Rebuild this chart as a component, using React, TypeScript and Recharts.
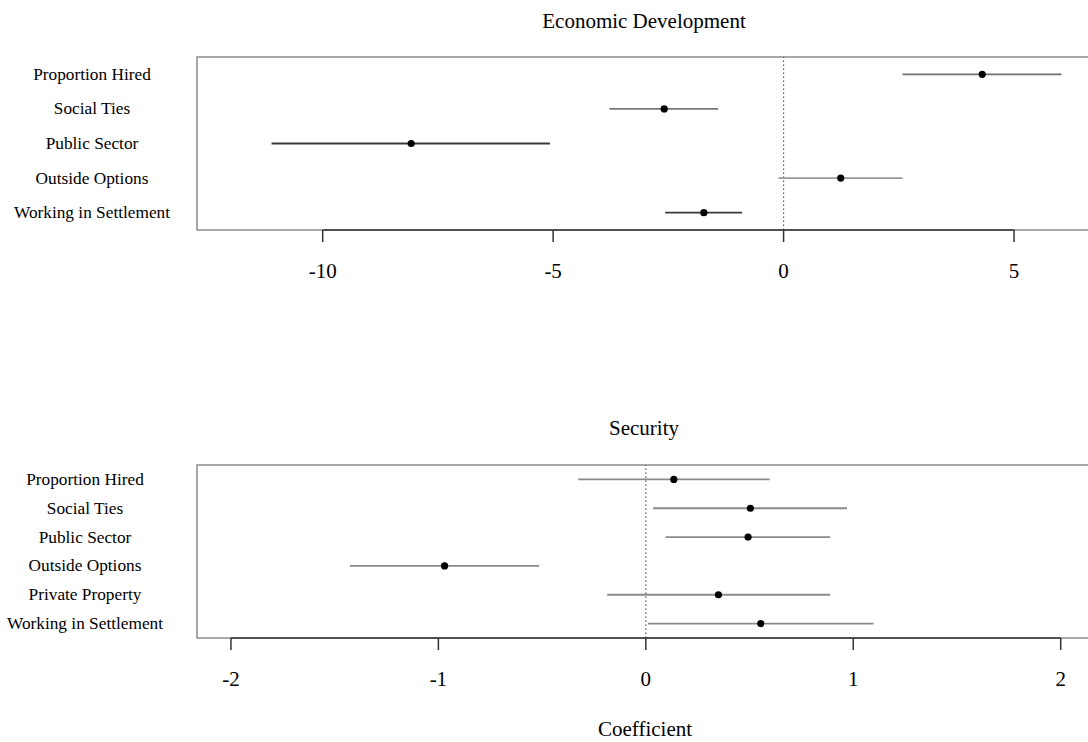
import React from 'react';
import { ScatterChart, Scatter, XAxis, YAxis, ReferenceLine, ReferenceArea } from 'recharts';

const FONT = '"Liberation Serif", "DejaVu Serif", serif';

// Economic Development panel
const econLabels = ['Proportion Hired', 'Social Ties', 'Public Sector', 'Outside Options', 'Working in Settlement'];
const econEstimate = [4.31, -2.59, -8.08, 1.24, -1.73];
const econLow = [2.58, -3.78, -11.11, -0.11, -2.57];
const econHigh = [6.03, -1.42, -5.07, 2.58, -0.9];
const econTicks = [-10, -5, 0, 5];

// Security panel
const secLabels = ['Proportion Hired', 'Social Ties', 'Public Sector', 'Outside Options', 'Private Property', 'Working in Settlement'];
const secEstimate = [0.135, 0.504, 0.493, -0.97, 0.35, 0.554];
const secLow = [-0.326, 0.035, 0.095, -1.426, -0.186, 0.011];
const secHigh = [0.597, 0.97, 0.889, -0.514, 0.889, 1.098];
const secTicks = [-2, -1, 0, 1, 2];

const econLineColors = ['#707070', '#777777', '#3a3a3a', '#999999', '#3a3a3a'];
const secLineColors = ['#8a8a8a', '#8a8a8a', '#8a8a8a', '#8a8a8a', '#8a8a8a', '#8a8a8a'];

const Dot = (props: any) => <circle cx={props.cx} cy={props.cy} r={3.6} fill="#000" />;

const XTick = (p: any) => (
  <text x={p.x} y={p.y} dy={15} textAnchor="middle" fontSize={21} fontFamily={FONT} fill="#000">
    {p.payload.value}
  </text>
);

type PanelProps = {
  labels: string[];
  estimate: number[];
  low: number[];
  high: number[];
  ticks: number[];
  domain: [number, number];
  labelX: number;
  lineColors: string[];
};

function CoefPanel({ labels, estimate, low, high, ticks, domain, labelX, lineColors }: PanelProps) {
  const rows = labels.map((label, i) => ({ label, y: i + 1, x: estimate[i], lo: low[i], hi: high[i] }));
  const yMax = labels.length + 0.5;
  return (
    <ScatterChart width={1090} height={300} margin={{ top: 57, right: 0, bottom: 0, left: 0 }}>
      <XAxis
        type="number"
        dataKey="x"
        domain={domain}
        ticks={ticks}
        allowDataOverflow
        axisLine={false}
        tickSize={12}
        tickMargin={21}
        tickLine={{ stroke: '#333', strokeWidth: 1.5 }}
        tick={XTick}
        height={70}
      />
      <YAxis
        type="number"
        dataKey="y"
        domain={[0.5, yMax]}
        ticks={rows.map((r) => r.y)}
        reversed
        allowDataOverflow
        width={197}
        axisLine={false}
        tickLine={false}
        tick={(p: any) => (
          <text x={labelX} y={p.y} dy={5.5} textAnchor="middle" fontSize={17.3} fontFamily={FONT} fill="#000">
            {labels[p.payload.value - 1]}
          </text>
        )}
      />
      <ReferenceArea x1={domain[0]} x2={domain[1]} y1={0.5} y2={yMax} fill="none" stroke="#8c8c8c" strokeWidth={1.5} ifOverflow="visible" />
      <ReferenceLine x={0} stroke="#555" strokeWidth={1.2} strokeDasharray="1.5 2.5" />
      <ReferenceLine
        segment={[{ x: ticks[0], y: yMax }, { x: ticks[ticks.length - 1], y: yMax }]}
        stroke="#333"
        strokeWidth={1.6}
        ifOverflow="visible"
      />
      {rows.map((r, i) => (
        <ReferenceLine
          key={r.label}
          segment={[{ x: r.lo, y: r.y }, { x: r.hi, y: r.y }]}
          stroke={lineColors[i]}
          strokeWidth={1.8}
          ifOverflow="visible"
        />
      ))}
      <Scatter data={rows} shape={Dot} isAnimationActive={false} />
    </ScatterChart>
  );
}

export default function App() {
  return (
    <div style={{ position: 'absolute', left: 0, top: 0, width: 1088, height: 742, overflow: 'hidden', background: '#fff' }}>
      <div style={{ position: 'absolute', left: 0, top: 0 }}>
        <CoefPanel
          labels={econLabels}
          estimate={econEstimate}
          low={econLow}
          high={econHigh}
          ticks={econTicks}
          domain={[-12.727, 6.648]}
          labelX={92}
          lineColors={econLineColors}
        />
      </div>
      <div style={{ position: 'absolute', left: 0, top: 408 }}>
        <CoefPanel
          labels={secLabels}
          estimate={secEstimate}
          low={secLow}
          high={secHigh}
          ticks={secTicks}
          domain={[-2.1636, 2.1412]}
          labelX={85}
          lineColors={secLineColors}
        />
      </div>
      <svg width={1088} height={742} style={{ position: 'absolute', left: 0, top: 0, pointerEvents: 'none' }}>
        <text x={644} y={28} textAnchor="middle" fontSize={21} fontFamily={FONT} fill="#000">Economic Development</text>
        <text x={644} y={435} textAnchor="middle" fontSize={21} fontFamily={FONT} fill="#000">Security</text>
        <text x={645} y={736} textAnchor="middle" fontSize={21} fontFamily={FONT} fill="#000">Coefficient</text>
      </svg>
    </div>
  );
}
